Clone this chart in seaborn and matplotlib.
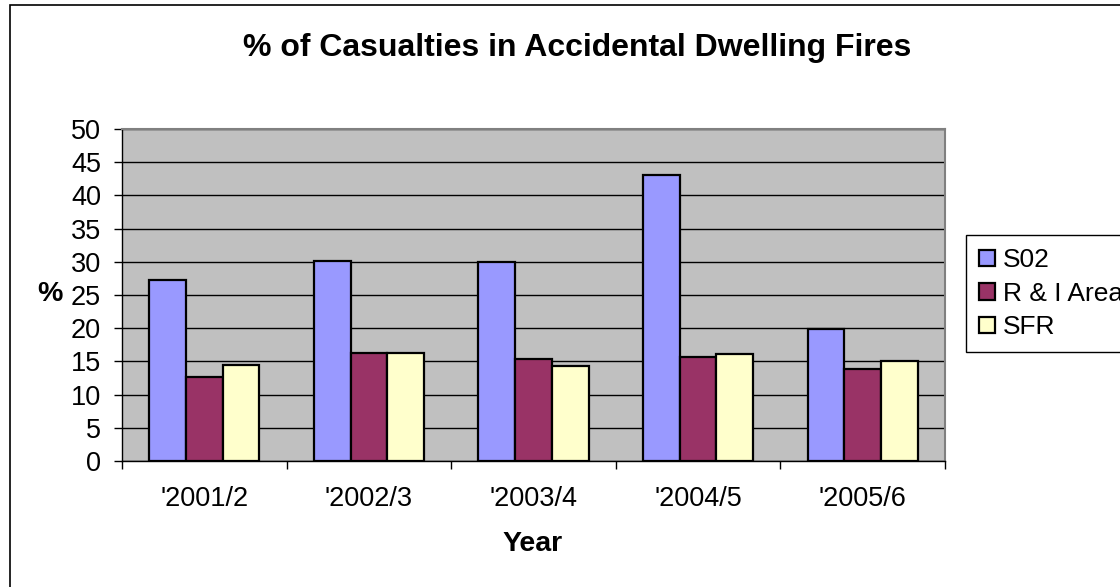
import pandas as pd
import seaborn as sns
import matplotlib.pyplot as plt
from matplotlib.patches import Rectangle

years = ["'2001/2", "'2002/3", "'2003/4", "'2004/5", "'2005/6"]
s02 = [27.3, 30.1, 29.9, 43.1, 19.9]
ri_area = [12.6, 16.2, 15.4, 15.6, 13.8]
sfr = [14.5, 16.2, 14.3, 16.1, 15.1]
series = ['S02', 'R & I Area', 'SFR']
colors = ['#9999FF', '#993366', '#FFFFCC']

df = pd.DataFrame({
    'Year': years * 3,
    'Value': s02 + ri_area + sfr,
    'Series': [s for s in series for _ in years],
})

sns.set_style('white')
plt.rcParams['font.family'] = ['Liberation Sans', 'DejaVu Sans']
plt.rcParams['text.color'] = 'black'
plt.rcParams['xtick.color'] = 'black'
plt.rcParams['ytick.color'] = 'black'

fig = plt.figure(figsize=(11.2, 5.87), dpi=100)
ax = fig.add_axes([122 / 1120, 1 - 461 / 587, (945 - 122) / 1120, (461 - 129) / 587])
ax.set_facecolor('#C0C0C0')

sns.barplot(data=df, x='Year', y='Value', hue='Series', palette=colors,
            saturation=1, width=0.67, gap=0, edgecolor='black', linewidth=1.6,
            ax=ax, zorder=3)

ax.set_ylim(0, 50)
ax.set_xlim(-0.5, 4.5)
ax.set_yticks(range(0, 51, 5))
ax.yaxis.grid(True, color='black', linewidth=1, zorder=0)
ax.set_axisbelow(True)

ax.tick_params(axis='y', which='major', left=True, length=6, width=1,
               color='black', labelcolor='black', labelsize=19.5, pad=9)
ax.tick_params(axis='x', which='major', length=0, labelcolor='black',
               labelsize=19.5, pad=18)
ax.set_xticks([i - 0.5 for i in range(6)], minor=True)
ax.tick_params(axis='x', which='minor', bottom=True, length=6, width=1, color='black')

for side in ['top', 'right']:
    ax.spines[side].set_color('#808080')
    ax.spines[side].set_linewidth(1.5)
for side in ['left', 'bottom']:
    ax.spines[side].set_color('black')
    ax.spines[side].set_linewidth(1)

ax.set_xlabel('')
ax.set_ylabel('')
fig.text(50 / 1120, 1 - 294 / 587, '%', fontsize=20.5, fontweight='bold',
         ha='center', va='center', color='black')
fig.text(533 / 1120, 1 - 544 / 587, 'Year', fontsize=20.5, fontweight='bold',
         ha='center', va='center', color='black')
fig.text(577 / 1120, 1 - 48 / 587, '% of Casualties in Accidental Dwelling Fires',
         fontsize=23, fontweight='bold', ha='center', va='center', color='black')

ax.get_legend().remove()
handles = [Rectangle((0, 0), 1, 1, facecolor=c, edgecolor='black', linewidth=1.6)
           for c in colors]
leg = fig.legend(handles, series, loc='upper left',
                 bbox_to_anchor=(966 / 1120, 1 - 235 / 587), bbox_transform=fig.transFigure,
                 fontsize=19, frameon=True, fancybox=False, framealpha=1,
                 edgecolor='black', borderpad=0.5, labelspacing=0.36,
                 handlelength=0.6, handleheight=0.6, handletextpad=0.3,
                 borderaxespad=0)
leg.get_frame().set_linewidth(1)
for t in leg.get_texts():
    t.set_color('black')

fig.patches.append(Rectangle((10 / 1120, -0.1), 1.2, 1 - 5 / 587 + 0.1,
                             transform=fig.transFigure, fill=False,
                             edgecolor='black', linewidth=1.2, zorder=0))

fig.savefig('out.png', dpi=100)
